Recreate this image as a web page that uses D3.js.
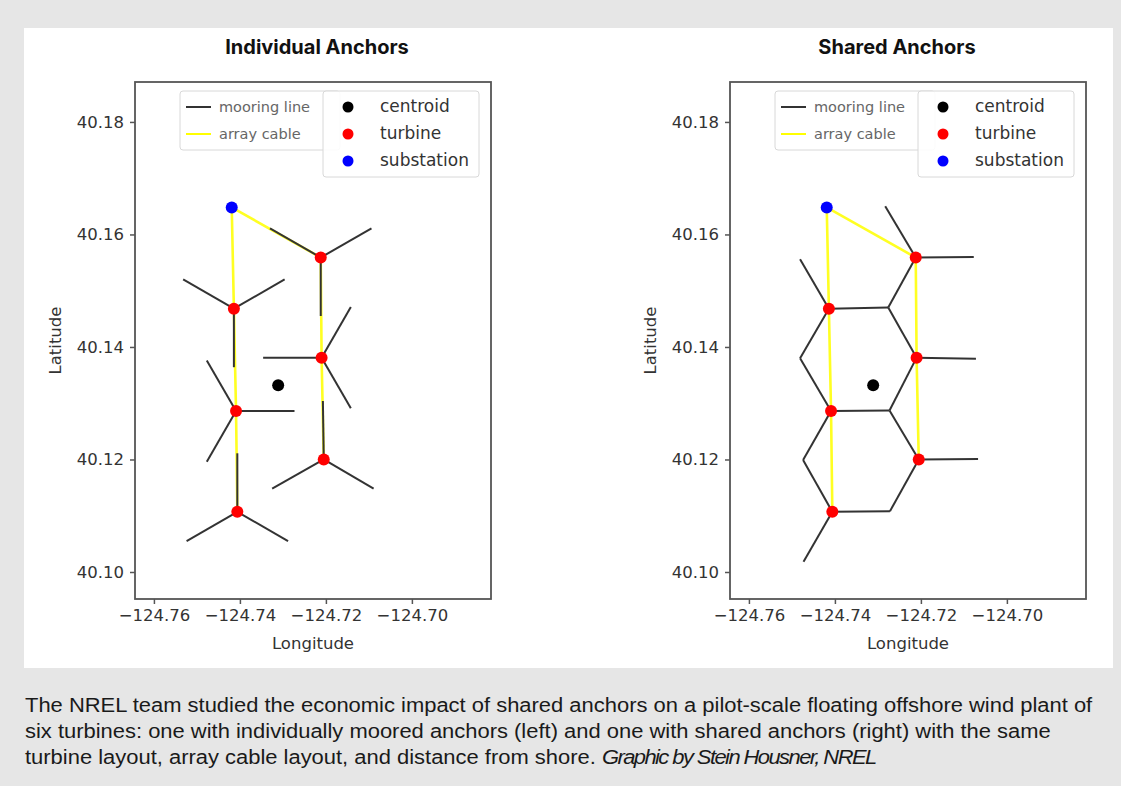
<!DOCTYPE html>
<html>
<head>
<meta charset="utf-8">
<script src="https://d3js.org/d3.v7.min.js"></script>
<style>
body { margin: 0; background: #e6e6e6; }
svg { display: block; }
.axis text { font-family: "DejaVu Sans", sans-serif; font-size: 16.5px; fill: #333; }
.axis line { stroke: #555; stroke-width: 1.5; }
.axis path { display: none; }
</style>
</head>
<body>
<script>
// turbines, substation and centroid (lon, lat)
var turbineLon = [-124.7212, -124.7414, -124.7210, -124.7409, -124.7205, -124.7406];
var turbineLat = [40.1559, 40.1468, 40.1381, 40.1286, 40.1200, 40.1107];
var substationLon = -124.7419;
var substationLat = 40.1648;
var centroidLon = -124.7311;
var centroidLat = 40.1332;

// array cables: -1 = substation, then turbine index
var cableRoutes = [[-1, 1, 3, 5], [-1, 0, 2, 4]];

// individual anchors: one anchor per mooring line
var indivTurbine = [0, 0, 0, 1, 1, 1, 2, 2, 2, 3, 3, 3, 4, 4, 4, 5, 5, 5];
var indivAnchorLon = [-124.7094, -124.7330, -124.7212,
                      -124.7296, -124.7532, -124.7414,
                      -124.7142, -124.7346, -124.7142,
                      -124.7273, -124.7477, -124.7477,
                      -124.7207, -124.7325, -124.7089,
                      -124.7406, -124.7524, -124.7288];
var indivAnchorLat = [40.1611, 40.1611, 40.1455,
                      40.1520, 40.1520, 40.1364,
                      40.1471, 40.1381, 40.1291,
                      40.1286, 40.1376, 40.1196,
                      40.1304, 40.1148, 40.1148,
                      40.1211, 40.1055, 40.1055];

// shared anchors and which turbine/anchor each mooring line joins
var sharedAnchorLon = [-124.7276, -124.7273, -124.7481, -124.7272, -124.7474, -124.7481,
                       -124.7283, -124.7077, -124.7072, -124.7067, -124.7473];
var sharedAnchorLat = [40.1470, 40.1287, 40.1380, 40.1108, 40.1199, 40.1556,
                       40.1650, 40.1560, 40.1379, 40.1201, 40.1018];
var sharedTurbine = [0, 0, 0, 1, 1, 1, 2, 2, 2, 3, 3, 3, 4, 4, 4, 5, 5, 5];
var sharedAnchor  = [7, 6, 0, 0, 5, 2, 8, 0, 1, 1, 2, 4, 9, 1, 3, 3, 4, 10];

var lonTicks = [-124.76, -124.74, -124.72, -124.70];
var latTicks = [40.10, 40.12, 40.14, 40.16, 40.18];
var lineLabels = ["mooring line", "array cable"];
var lineColors = ["#333333", "#ffff00"];
var pointLabels = ["centroid", "turbine", "substation"];
var pointColors = ["#000000", "#ff0000", "#0000ff"];

var width = 1121;
var height = 786;
var plotW = 356;
var plotH = 517;
var plotTop = 82;

var x = d3.scaleLinear().domain([-124.7644, -124.6816]).range([0, plotW]);
var y = d3.scaleLinear().domain([40.0952, 40.1871]).range([plotH, 0]);

var svg = d3.select("body").append("svg").attr("width", width).attr("height", height);

svg.append("rect").attr("width", width).attr("height", height).style("fill", "#e6e6e6");
svg.append("rect")
    .attr("x", 24).attr("y", 28)
    .attr("width", 1089).attr("height", 640)
    .style("fill", "#ffffff");

function drawPanel(left, title, titleX, mooring) {
  svg.append("text")
      .attr("x", titleX)
      .attr("y", 47)
      .attr("dominant-baseline", "central")
      .style("text-anchor", "middle")
      .style("font-family", "Inter, sans-serif")
      .style("font-weight", "700")
      .style("font-size", "20px")
      .style("fill", "#111")
      .text(title);

  var g = svg.append("g").attr("transform", "translate(" + left + "," + plotTop + ")");

  g.append("g")
      .attr("class", "axis")
      .attr("transform", "translate(0," + plotH + ")")
      .call(d3.axisBottom(x).tickValues(lonTicks).tickSize(5).tickPadding(5).tickFormat(d3.format(".2f")));
  g.append("g")
      .attr("class", "axis")
      .call(d3.axisLeft(y).tickValues(latTicks).tickSize(5).tickPadding(6).tickFormat(d3.format(".2f")));

  // array cables
  var cableLine = d3.line()
      .x(function(d) { return d < 0 ? x(substationLon) : x(turbineLon[d]); })
      .y(function(d) { return d < 0 ? y(substationLat) : y(turbineLat[d]); });
  g.selectAll(".cable")
      .data(cableRoutes)
      .enter().append("path")
      .attr("class", "cable")
      .attr("d", cableLine)
      .style("fill", "none")
      .style("stroke", "#ffff22")
      .style("stroke-width", 2.6);

  // mooring lines
  g.selectAll(".mooring")
      .data(mooring)
      .enter().append("line")
      .attr("class", "mooring")
      .attr("x1", function(d) { return x(turbineLon[d.t]); })
      .attr("y1", function(d) { return y(turbineLat[d.t]); })
      .attr("x2", function(d) { return x(d.lon); })
      .attr("y2", function(d) { return y(d.lat); })
      .style("stroke", "#333")
      .style("stroke-width", 2);

  g.selectAll(".turbine")
      .data(turbineLon)
      .enter().append("circle")
      .attr("cx", function(d) { return x(d); })
      .attr("cy", function(d, i) { return y(turbineLat[i]); })
      .attr("r", 6)
      .style("fill", "#ff0000");
  g.append("circle")
      .attr("cx", x(substationLon)).attr("cy", y(substationLat))
      .attr("r", 6).style("fill", "#0000ff");
  g.append("circle")
      .attr("cx", x(centroidLon)).attr("cy", y(centroidLat))
      .attr("r", 6).style("fill", "#000000");

  // frame
  g.append("rect")
      .attr("width", plotW).attr("height", plotH)
      .style("fill", "none")
      .style("stroke", "#555")
      .style("stroke-width", 1.8);

  // axis labels
  g.append("text")
      .attr("x", plotW / 2)
      .attr("y", plotH + 44)
      .attr("dominant-baseline", "central")
      .style("text-anchor", "middle")
      .style("font-family", "DejaVu Sans, sans-serif")
      .style("font-size", "16.5px")
      .style("fill", "#333")
      .text("Longitude");
  g.append("text")
      .attr("transform", "translate(-80," + (plotH / 2) + ") rotate(-90)")
      .attr("dominant-baseline", "central")
      .style("text-anchor", "middle")
      .style("font-family", "DejaVu Sans, sans-serif")
      .style("font-size", "16.5px")
      .style("fill", "#333")
      .text("Latitude");

  // legend for lines (drawn first, partly covered)
  g.append("rect")
      .attr("x", 45).attr("y", 9)
      .attr("width", 160).attr("height", 59)
      .attr("rx", 3)
      .style("fill", "#ffffff").style("fill-opacity", 0.85)
      .style("stroke", "#d8d8d8");
  lineLabels.forEach(function(label, i) {
    g.append("line")
        .attr("x1", 51).attr("x2", 76)
        .attr("y1", 25 + i * 27).attr("y2", 25 + i * 27)
        .style("stroke", lineColors[i])
        .style("stroke-width", 2);
    g.append("text")
        .attr("x", 84).attr("y", 25 + i * 27)
        .attr("dominant-baseline", "central")
        .style("font-family", "DejaVu Sans, sans-serif")
        .style("font-size", "14.5px")
        .style("fill", "#666")
        .text(label);
  });

  // legend for points
  g.append("rect")
      .attr("x", 188).attr("y", 9)
      .attr("width", 156).attr("height", 86)
      .attr("rx", 3)
      .style("fill", "#ffffff").style("fill-opacity", 0.9)
      .style("stroke", "#d8d8d8");
  pointLabels.forEach(function(label, i) {
    g.append("circle")
        .attr("cx", 213).attr("cy", 25 + i * 27)
        .attr("r", 5.5)
        .style("fill", pointColors[i]);
    g.append("text")
        .attr("x", 245).attr("y", 24 + i * 27)
        .attr("dominant-baseline", "central")
        .style("font-family", "DejaVu Sans, sans-serif")
        .style("font-size", "17px")
        .style("fill", "#333")
        .text(label);
  });
}

var indivMooring = indivTurbine.map(function(t, i) {
  return {t: t, lon: indivAnchorLon[i], lat: indivAnchorLat[i]};
});
var sharedMooring = sharedTurbine.map(function(t, i) {
  return {t: t, lon: sharedAnchorLon[sharedAnchor[i]], lat: sharedAnchorLat[sharedAnchor[i]]};
});

drawPanel(135, "Individual Anchors", 317, indivMooring);
drawPanel(730, "Shared Anchors", 897, sharedMooring);

// caption, squeezed horizontally to look like the narrow original font
var captionLines = [
  "The NREL team studied the economic impact of shared anchors on a pilot-scale floating offshore wind plant of",
  "six turbines: one with individually moored anchors (left) and one with shared anchors (right) with the same",
  "turbine layout, array cable layout, and distance from shore. "
];
var captionCredit = "Graphic by Stein Housner, NREL";
var captionY = [705, 731, 757];

var caption = svg.append("g");
var captionTexts = captionLines.map(function(line, i) {
  var t = caption.append("text")
      .attr("y", 0)
      .attr("dominant-baseline", "central")
      .style("font-family", "'Liberation Sans', Arial, sans-serif")
      .style("font-size", "21px")
      .style("fill", "#1a1a1a")
      .text(line);
  if (i == 2) {
    t.append("tspan")
        .style("font-style", "italic")
        .style("letter-spacing", "-1.5px")
        .text(captionCredit);
  }
  return t;
});
var k = 1068 / captionTexts[0].node().getComputedTextLength();
captionTexts.forEach(function(t, i) {
  t.attr("transform", "translate(25," + captionY[i] + ") scale(" + k + ",1)");
});
</script>
</body>
</html>
